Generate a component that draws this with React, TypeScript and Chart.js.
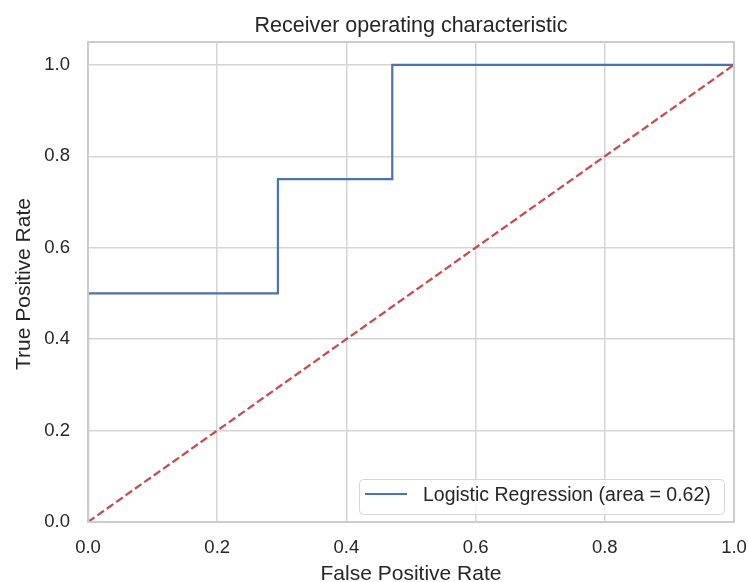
import React, { useEffect, useRef } from "react";
import { Chart, registerables } from "chart.js";

Chart.register(...registerables);

const fpr = [0, 0, 0.294, 0.294, 0.471, 0.471, 1];
const tpr = [0, 0.5, 0.5, 0.75, 0.75, 1, 1];
const chanceX = [0, 1];
const chanceY = [0, 1];
const yTicks = [0, 0.2, 0.4, 0.6, 0.8, 1.0];
const xTicks = [0, 0.2, 0.4, 0.6, 0.8, 1.0];
const rocLabel = "Logistic Regression (area = 0.62)";
const titleText = "Receiver operating characteristic";
const xLabel = "False Positive Rate";
const yLabel = "True Positive Rate";

const FONT = '"Liberation Sans", Arial, sans-serif';
const TEXT = "#262626";
const BLUE = "#4C72B0";
const RED = "#C44E52";

const decorPlugin = {
  id: "decor",
  afterDatasetsDraw(chart: any) {
    const { ctx, chartArea } = chart;
    const { left, top, right, bottom } = chartArea;
    ctx.save();
    ctx.strokeStyle = "#cccccc";
    ctx.lineWidth = 2;
    ctx.strokeRect(left, top, right - left, bottom - top);
    const lx = 359.5, ly = 479.5, lw = 365, lh = 35, r = 4;
    ctx.beginPath();
    ctx.moveTo(lx + r, ly);
    ctx.lineTo(lx + lw - r, ly);
    ctx.quadraticCurveTo(lx + lw, ly, lx + lw, ly + r);
    ctx.lineTo(lx + lw, ly + lh - r);
    ctx.quadraticCurveTo(lx + lw, ly + lh, lx + lw - r, ly + lh);
    ctx.lineTo(lx + r, ly + lh);
    ctx.quadraticCurveTo(lx, ly + lh, lx, ly + lh - r);
    ctx.lineTo(lx, ly + r);
    ctx.quadraticCurveTo(lx, ly, lx + r, ly);
    ctx.closePath();
    ctx.fillStyle = "rgba(255,255,255,0.8)";
    ctx.fill();
    ctx.strokeStyle = "#d6d6d6";
    ctx.lineWidth = 1;
    ctx.stroke();
    ctx.beginPath();
    ctx.strokeStyle = BLUE;
    ctx.lineWidth = 2.2;
    ctx.moveTo(365, 494);
    ctx.lineTo(407, 494);
    ctx.stroke();
    ctx.fillStyle = TEXT;
    ctx.font = `19.5px ${FONT}`;
    ctx.textBaseline = "alphabetic";
    ctx.textAlign = "left";
    ctx.fillText(chart.data.datasets[0].label, 423, 501);
    ctx.restore();
  },
  afterDraw(chart: any) {
    const { ctx, chartArea } = chart;
    const cx = (chartArea.left + chartArea.right) / 2;
    const cy = (chartArea.top + chartArea.bottom) / 2;
    ctx.save();
    ctx.fillStyle = TEXT;
    ctx.textAlign = "center";
    ctx.textBaseline = "alphabetic";
    ctx.font = `21.5px ${FONT}`;
    ctx.fillText(titleText, cx, 32);
    ctx.font = `21px ${FONT}`;
    ctx.fillText(xLabel, cx, 580);
    ctx.translate(30, cy + 2);
    ctx.rotate(-Math.PI / 2);
    ctx.fillText(yLabel, 0, 0);
    ctx.restore();
  },
};

export default function App() {
  const ref = useRef<HTMLCanvasElement | null>(null);
  useEffect(() => {
    if (!ref.current) return;
    const chart = new Chart(ref.current, {
      type: "scatter",
      data: {
        datasets: [
          {
            label: rocLabel,
            data: fpr.map((x, i) => ({ x, y: tpr[i] })),
            showLine: true,
            borderColor: BLUE,
            borderWidth: 2.2,
            pointRadius: 0,
            fill: false,
            tension: 0,
            order: 2,
          },
          {
            label: "chance",
            data: chanceX.map((x, i) => ({ x, y: chanceY[i] })),
            showLine: true,
            borderColor: RED,
            borderWidth: 2.3,
            borderDash: [8, 3.5],
            pointRadius: 0,
            fill: false,
            order: 1,
          },
        ],
      },
      options: {
        animation: false,
        responsive: false,
        devicePixelRatio: 1,
        layout: { padding: { top: 42, right: 14, left: 0, bottom: 0 } },
        plugins: {
          legend: { display: false },
          tooltip: { enabled: false },
          title: { display: false },
        },
        scales: {
          x: {
            type: "linear",
            min: 0,
            max: 1,
            afterFit(scale: any) {
              scale.height = 60;
              scale.paddingLeft = 0;
              scale.paddingRight = 0;
            },
            afterBuildTicks(scale: any) {
              scale.ticks = xTicks.map((v) => ({ value: v }));
            },
            ticks: {
              padding: 15,
              color: TEXT,
              font: { family: FONT, size: 18.5 },
              maxRotation: 0,
              callback: (v: any) => Number(v).toFixed(1),
            },
            grid: { color: "#d5d5d5", lineWidth: 1.5, drawTicks: false },
            border: { display: false },
          },
          y: {
            type: "linear",
            min: 0,
            max: 1.05,
            afterFit(scale: any) {
              scale.width = 88;
              scale.paddingTop = 0;
              scale.paddingBottom = 0;
            },
            afterBuildTicks(scale: any) {
              scale.ticks = yTicks.map((v) => ({ value: v }));
            },
            ticks: {
              padding: 18,
              color: TEXT,
              font: { family: FONT, size: 18.5 },
              callback: (v: any) => Number(v).toFixed(1),
            },
            grid: { color: "#d5d5d5", lineWidth: 1.5, drawTicks: false },
            border: { display: false },
          },
        },
      },
      plugins: [decorPlugin],
    });
    return () => chart.destroy();
  }, []);
  return (
    <div style={{ position: "fixed", left: 0, top: 0, width: 748, height: 582, background: "#fff" }}>
      <canvas ref={ref} width={748} height={582} style={{ display: "block" }} />
    </div>
  );
}
